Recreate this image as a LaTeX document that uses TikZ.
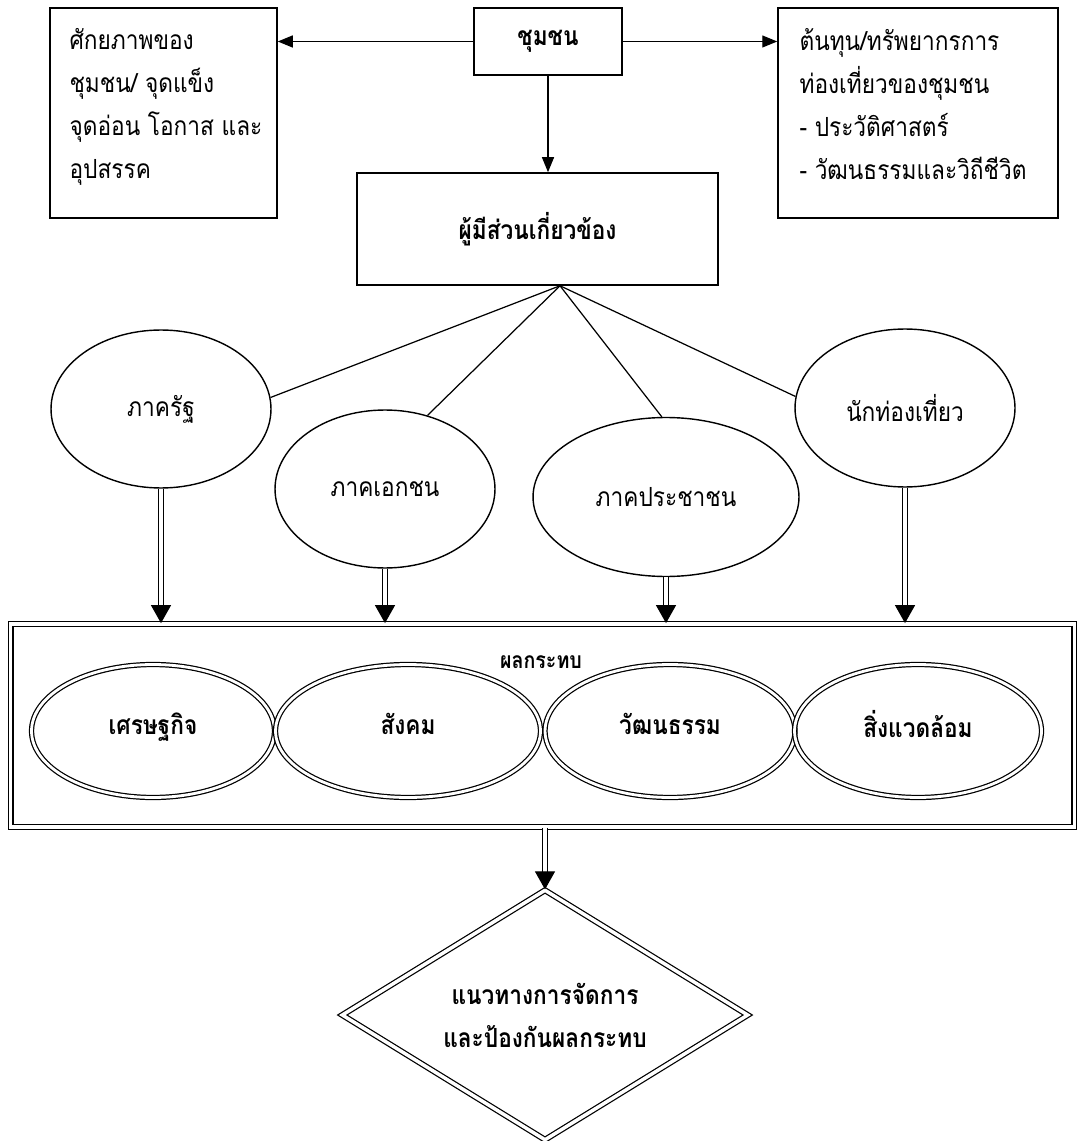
\documentclass[tikz,border=0pt]{standalone}
\usepackage{fontspec}
\newfontfamily\thaifont[Script=Thai,FakeStretch=0.86]{Loma}
\usetikzlibrary{shapes.geometric,arrows.meta}

\begin{document}
\begin{tikzpicture}[x=0.02cm,y=-0.02cm,
  >={Triangle[length=0.3cm,width=0.24cm]},
  every node/.style={font=\thaifont\fontsize{15}{24.4}\selectfont,inner sep=0pt}]
 \tikzstyle{infobox} = [draw,line width=0.9pt,rectangle,minimum height=4.2cm]
 \tikzstyle{boxtext} = [anchor=north west,align=left]
 \tikzstyle{headbox} = [draw,line width=0.9pt,rectangle,font=\thaifont\fontsize{15}{24.4}\selectfont\bfseries]
 \tikzstyle{party} = [draw,line width=0.8pt,ellipse,minimum width=4.4cm,minimum height=3.16cm]
 \tikzstyle{impactell} = [draw,ellipse,line width=0.7pt,double,double distance=1.6pt,
   minimum height=2.66cm,text depth=0.3cm,font=\thaifont\fontsize{15}{24.4}\selectfont\bfseries]
 \tikzstyle{connector} = [line width=0.7pt]
 \tikzstyle{dblarrow} = [line width=0.6pt,double,double distance=2.2pt,
   -{Triangle[length=0.36cm,width=0.4cm]}]

 \useasboundingbox (0,0) rectangle (1080,1141);

% Top row
 \node[headbox,minimum width=2.96cm,minimum height=1.34cm] (comm) at (548,41.5) {ชุมชน};
 \node[infobox,minimum width=4.54cm] (swot) at (163.5,113) {};
 \node[boxtext] (swottext) at ([shift={(0.4cm,-0.42cm)}]swot.north west)
   {ศักยภาพของ\\ชุมชน/ จุดแข็ง\\จุดอ่อน โอกาส และ\\อุปสรรค};
 \node[infobox,minimum width=5.6cm] (asset) at (918,113) {};
 \node[boxtext] (assettext) at ([shift={(0.44cm,-0.42cm)}]asset.north west)
   {ต้นทุน/ทรัพยากรการ\\ท่องเที่ยวของชุมชน\\- ประวัติศาสตร์\\- วัฒนธรรมและวิถีชีวิต};
 \node[headbox,minimum width=7.22cm,minimum height=2.24cm] (stake) at (537.5,229) {ผู้มีส่วนเกี่ยวข้อง};

 \draw[connector,->] (comm.west) -- (comm.west -| swot.east);
 \draw[connector,->] (comm.east) -- (comm.east -| asset.west);
 \draw[connector,->] (comm.south) -- (comm.south |- stake.north);

% Stakeholders
 \coordinate (hub) at ([xshift=0.45cm]stake.south);
 \node[party] (gov) at (161,409) {ภาครัฐ};
 \node[party] (priv) at (385,489) {ภาคเอกชน};
 \node[party,minimum width=5.32cm,minimum height=3.18cm] (people) at (666,497) {ภาคประชาชน};
 \node[party] (tourist) at (905,408) {นักท่องเที่ยว};

 \draw[connector] (hub) -- (gov.6);
 \draw[connector] (hub) -- (priv.60);
 \draw[connector] (hub) -- (people.93);
 \draw[connector] (hub) -- (tourist.174);

% Impacts
 \node[draw,line width=0.7pt,double,double distance=2pt,minimum width=21.28cm,minimum height=4.07cm]
   (impact) at (542.5,725.5) {};
 \node[font=\thaifont\fontsize{13}{16}\selectfont\bfseries] (impacttitle) at (541,662) {ผลกระทบ};
 \node[impactell,minimum width=4.86cm] (econ) at (153,731) {เศรษฐกิจ};
 \node[impactell,minimum width=5.3cm] (soc) at (408,731) {สังคม};
 \node[impactell,minimum width=5.0cm] (cult) at (670,731) {วัฒนธรรม};
 \node[impactell,minimum width=4.94cm] (env) at (918,731) {สิ่งแวดล้อม};

 \foreach \p in {gov,priv,people,tourist}
   \draw[dblarrow] (\p.south) -- (\p.south |- impact.north);

% Guidelines
 \node[draw,diamond,shape aspect=1.6,line width=0.7pt,double,double distance=2pt,
   minimum width=8.12cm,minimum height=5cm,align=center,
   font=\thaifont\fontsize{15}{24.4}\selectfont\bfseries] (plan) at (545,1015)
   {แนวทางการจัดการ\\และป้องกันผลกระทบ};
 \draw[dblarrow] (impact.south -| plan.north) -- (plan.north);
\end{tikzpicture}
\end{document}
